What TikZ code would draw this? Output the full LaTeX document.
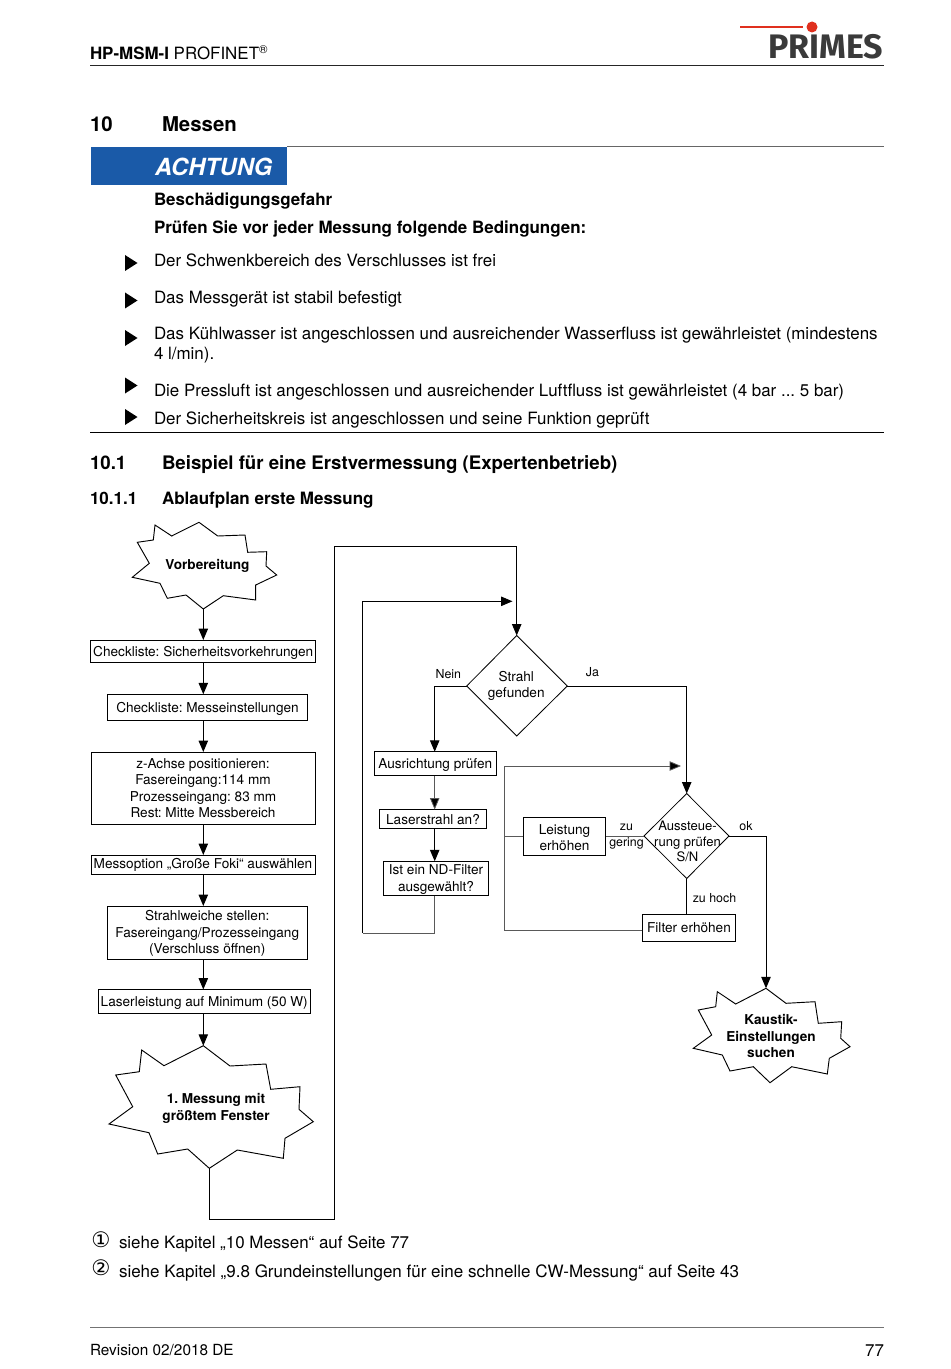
\documentclass[tikz,border=0pt]{standalone}
\usepackage{fontspec}
\setmainfont{TeX Gyre Heros}
\newfontfamily\logofont{Fira Sans}
\newfontfamily\symfont{DejaVu Sans}
\usetikzlibrary{arrows.meta}
\definecolor{primesblue}{HTML}{1A5AA8}
\definecolor{primesred}{HTML}{E0301E}
\definecolor{logogray}{HTML}{3A3A3A}
\newcommand\fs[1]{\fontsize{#1}{#1}\selectfont}
\tikzset{
  tx/.style={anchor=base west,inner sep=0pt,outer sep=0pt},
  body/.style={tx,font=\fs{12.7}},
  bodyb/.style={tx,font=\fs{12.72}\bfseries},
  sec/.style={tx,font=\fs{14}\bfseries},
  chap/.style={tx,font=\fs{15.3}\bfseries},
  subsec/.style={tx,font=\fs{12.75}\bfseries},
  stepbox/.style={draw=black,line width=0.6pt,inner sep=0pt,outer sep=0pt,fill=white},
  lab/.style={inner sep=0pt,outer sep=0pt,font=\fs{9.3},align=center},
  dia/.style={draw=black,line width=0.6pt,fill=white},
  dtext/.style={inner sep=0pt,font=\fs{10.2},align=center},
  btext/.style={inner sep=0pt,font=\fs{10.2}\bfseries,align=center},
  burst/.style={draw=black,line width=0.7pt,fill=white,line join=miter},
  conn/.style={draw=black,line width=0.75pt},
  flow/.style={conn,-{Triangle[length=8.5pt,width=7pt]}},
  thin/.style={draw=black!65,line width=0.6pt},
  thinflow/.style={thin,-{Triangle[length=8.5pt,width=7pt,fill=black]}},
  bull/.style={fill=black},
  rule/.style={line width=0.6pt,draw=black}
}
\newcommand\bullettri[1]{\fill[bull] (125,#1-8) -- (137.5,#1) -- (125,#1+8) -- cycle;}
% name, centre, width, height, text y offset (px), text
\newcommand\boxat[6]{\node[stepbox,minimum width=#3*0.75pt,minimum height=#4*0.75pt] (#1) at (#2) {};
  \node[dtext,yshift=-#5*0.75pt] (#1t) at (#1) {#6};}
\begin{document}\frenchspacing
\begin{tikzpicture}[x=0.75pt,y=-0.75pt]
\useasboundingbox (0,0) rectangle (950,1369);
\fill[white] (0,0) rectangle (950,1369);

% header
\node[tx,font=\fs{12.7}] (hd) at (90,60) {\textbf{HP-MSM-I} PROFINET\raisebox{0.38em}{\fs{8.6}®}};
\draw[line width=0.7pt,draw=black!85] (90,65) -- (884,65);
\draw[primesred,line width=0.8pt] (740,27) -- (803,27);
\fill[primesred] (812,27) circle[radius=5.5];
\node[tx,font=\logofont\fs{25.5}\bfseries,text=logogray] (logo) at (768,59) {PRIMES};

% chapter
\node[chap] (c1) at (90,132) {10};
\node[chap] (c2) at (162,132) {Messen};
\draw[line width=0.45pt,draw=black!60] (287,146.5) -- (884,146.5);
\fill[primesblue] (91,147) rectangle (287,185);
\node[tx,font=\fs{17.7}\bfseries\itshape,text=white] (ach) at (155,175.5) {ACHTUNG};
\node[bodyb] (w1) at (154,205.7) {Beschädigungsgefahr};
\node[bodyb] (w2) at (154,233.7) {Prüfen Sie vor jeder Messung folgende Bedingungen:};

\bullettri{263}
\bullettri{300.5}
\bullettri{338}
\bullettri{385.5}
\bullettri{417}
\node[body] (b1) at (154,266.7) {Der Schwenkbereich des Verschlusses ist frei};
\node[body] (b2) at (154,303.7) {Das Messgerät ist stabil befestigt};
\node[body] (b3) at (154,339.5) {Das Kühlwasser ist angeschlossen und ausreichender Wasserfluss ist gewährleistet (mindestens};
\node[body] (b3b) at (154,359.5) {4 l/min).};
\node[body] (b4) at (154,396) {Die Pressluft ist angeschlossen und ausreichender Luftfluss ist gewährleistet (4 bar ... 5 bar)};
\node[body] (b5) at (154,424) {Der Sicherheitskreis ist angeschlossen und seine Funktion geprüft};
\draw[rule] (90,432) -- (884,432);

\node[sec] (s1) at (90,469) {10.1};
\node[sec] (s2) at (162,469) {Beispiel für eine Erstvermessung (Expertenbetrieb)};
\node[subsec] (s3) at (90,504) {10.1.1};
\node[subsec] (s4) at (162,504) {Ablaufplan erste Messung};

% left column boxes
\boxat{a1}{203.25,651}{225}{22}{2}{Checkliste: Sicherheitsvorkehrungen}
\boxat{a2}{207.5,707.5}{200.5}{26.5}{1}{Checkliste: Messeinstellungen}
\boxat{a3}{203,788}{224}{72}{0}{z-Achse positionieren:\\[2.1pt]Fasereingang:114 mm\\[2.1pt]Prozesseingang: 83 mm\\[2.1pt]Rest: Mitte Messbereich}
\boxat{a4}{203,864.5}{224}{19}{0.5}{Messoption „Große Foki“ auswählen}
\boxat{a5}{207.25,932.5}{200.5}{53}{1}{Strahlweiche stellen:\\[2.1pt]Fasereingang/Prozesseingang\\[2.1pt](Verschluss öffnen)}
\boxat{a6}{204.25,1001.5}{211.5}{24}{1.5}{Laserleistung auf Minimum (50 W)}

% bursts
\draw[burst] (155,525)--(171.7,536)--(199,522.3)--(217.7,536)--(245,535)--(247.7,552.3)--(266.7,551.7)--(266,566)--(276.7,575)--(255.7,585)--(255.7,600)--(223.3,595.7)--(203.3,609)--(186,595)--(167.3,598.3)--(160,583.3)--(132.3,577.3)--(149.3,563.3)--(137.3,542.3)--(153.3,540)--cycle;
\coordinate (vb) at (203.3,609);
\node[btext] (vt) at (207.5,566) {Vorbereitung};

\draw[burst] (141.7,1050)--(164,1065.7)--(203.3,1045.7)--(230,1066)--(266,1064)--(270.7,1089.3)--(300,1086.7)--(299,1109.3)--(313.3,1121.7)--(285,1138.3)--(283.3,1158.3)--(237.3,1150)--(209.3,1168.3)--(187.7,1149)--(157.7,1154)--(149,1132.7)--(109,1124)--(132.7,1106.7)--(115.7,1075)--(139.3,1071.7)--cycle;
\coordinate (mt) at (203.3,1045.7);
\coordinate (mb) at (209.3,1168.3);
\node[btext] (mtx) at (216,1108.7) {1. Messung mit\\[2.3pt]größtem Fenster};

\draw[burst] (717.3,991.7)--(735.7,1004)--(766,988.3)--(786,1003.3)--(815,1001.7)--(818.3,1023.3)--(841.7,1021.7)--(840.7,1038.3)--(850,1046.7)--(829.3,1058.3)--(827.3,1074)--(791.7,1066.7)--(770,1082.7)--(753.3,1066.7)--(730,1071)--(722.3,1055)--(693.3,1048.3)--(711.7,1035)--(698.3,1010)--(715.7,1006.7)--cycle;
\coordinate (kt) at (766,988.3);
\node[btext] (ktx) at (771,1036) {Kaustik-\\[2.3pt]Einstellungen\\[2.3pt]suchen};

% left arrows
\draw[flow] (vb) -- (vb|-a1.north);
\draw[flow] (vb|-a1.south) -- (vb|-a2.north);
\draw[flow] (vb|-a2.south) -- (vb|-a3.north);
\draw[flow] (vb|-a3.south) -- (vb|-a4.north);
\draw[flow] (vb|-a4.south) -- (vb|-a5.north);
\draw[flow] (vb|-a5.south) -- (vb|-a6.north);
\draw[flow] (vb|-a6.south) -- (mt);

% middle column
\draw[dia] (516.7,635.5) coordinate (st) -- (567.3,686) coordinate (sr) -- (516.7,736) coordinate (sb) -- (466.7,686) coordinate (sl) -- cycle;
\node[dtext] (stx) at (516.2,686) {Strahl\\[2.1pt]gefunden};
\boxat{m1}{435.25,763.75}{122.5}{24}{1.5}{Ausrichtung prüfen}
\boxat{m2}{433,818.75}{107.5}{18.5}{0.5}{Laserstrahl an?}
\boxat{m3}{436,878.5}{104.5}{34.5}{1}{Ist ein ND-Filter\\[2.1pt]ausgewählt?}

\coordinate (t1) at (334.5,1219);
\coordinate (t2) at (334.5,546);
\draw[flow] (mb) |- (t1) -- (t2) -| (st);
\coordinate (ml) at (434.7,686);
\draw[flow] (sl) -- (ml) -- (ml|-m1.north);
\draw[thinflow] (ml|-m1.south) -- (ml|-m2.north);
\draw[flow] (ml|-m2.south) -- (ml|-m3.north);
\coordinate (f1) at (434.7,933);
\coordinate (f2) at (362.5,933);
\coordinate (f3) at (362.5,601.3);
\coordinate (f4) at (512.5,601.3);
\draw[thin] (f1|-m3.south) -- (f1) -- (f2);
\draw[conn] (f2) -- (f3);
\draw[flow] (f3) -- (f4);

% right part
\draw[dia] (686.7,793.5) coordinate (at) -- (729,836) coordinate (ar) -- (686.7,878.5) coordinate (ab) -- (644,836) coordinate (al) -- cycle;
\node[dtext,font=\fs{9.8}] (atx) at (687.5,841.5) {Aussteue-\\[1.6pt]rung prüfen\\[1.6pt]S/N};
\boxat{r1}{564.5,836.75}{82.5}{38}{1}{Leistung\\[2.1pt]erhöhen}
\boxat{r2}{689,927.5}{93.5}{27}{0.5}{Filter erhöhen}
\coordinate (j1) at (686.7,686);
\draw[flow] (sr) -- (j1) -- (at);
\coordinate (o1) at (766,836);
\draw[flow] (ar) -- (o1) -- (kt);
\draw[thin] (al) -- (r1.east|-al);
\coordinate (l1) at (504.5,836);
\coordinate (l2) at (504.5,766);
\coordinate (l3) at (681,766);
\coordinate (l4) at (504.5,930);
\draw[thin] (r1.west|-l1) -- (l1);
\draw[thinflow] (r2.west|-l4) -- (l4) -- (l2) -- (l3);
\draw[conn] (ab) -- (ab|-r2.north);

% labels
\node[lab] (n1) at (448.3,674.5) {Nein};
\node[lab] (n2) at (592.5,672.5) {Ja};
\node[lab] (n3) at (626.5,836.5) {zu\\[2.9pt]gering};
\node[lab] (n4) at (746,826) {ok};
\node[lab] (n5) at (714.5,898) {zu hoch};

% footnotes
\node[inner sep=0pt,font=\symfont\fs{16}] (f1n) at (101,1240) {①};
\node[body] (f1t) at (119,1248) {siehe Kapitel „10 Messen“ auf Seite 77};
\node[inner sep=0pt,font=\symfont\fs{16}] (f2n) at (101,1267.5) {②};
\node[body,font=\fs{12.76}] (f2t) at (119,1277) {siehe Kapitel „9.8 Grundeinstellungen für eine schnelle CW-Messung“ auf Seite 43};

% footer
\draw[line width=0.5pt,draw=black!55] (90,1327.5) -- (884,1327.5);
\node[tx,font=\fs{11.5}] (ft) at (90,1355) {Revision 02/2018 DE};
\node[tx,anchor=base east,font=\fs{12.7}] (pg) at (884,1356.5) {77};
\end{tikzpicture}
\end{document}
